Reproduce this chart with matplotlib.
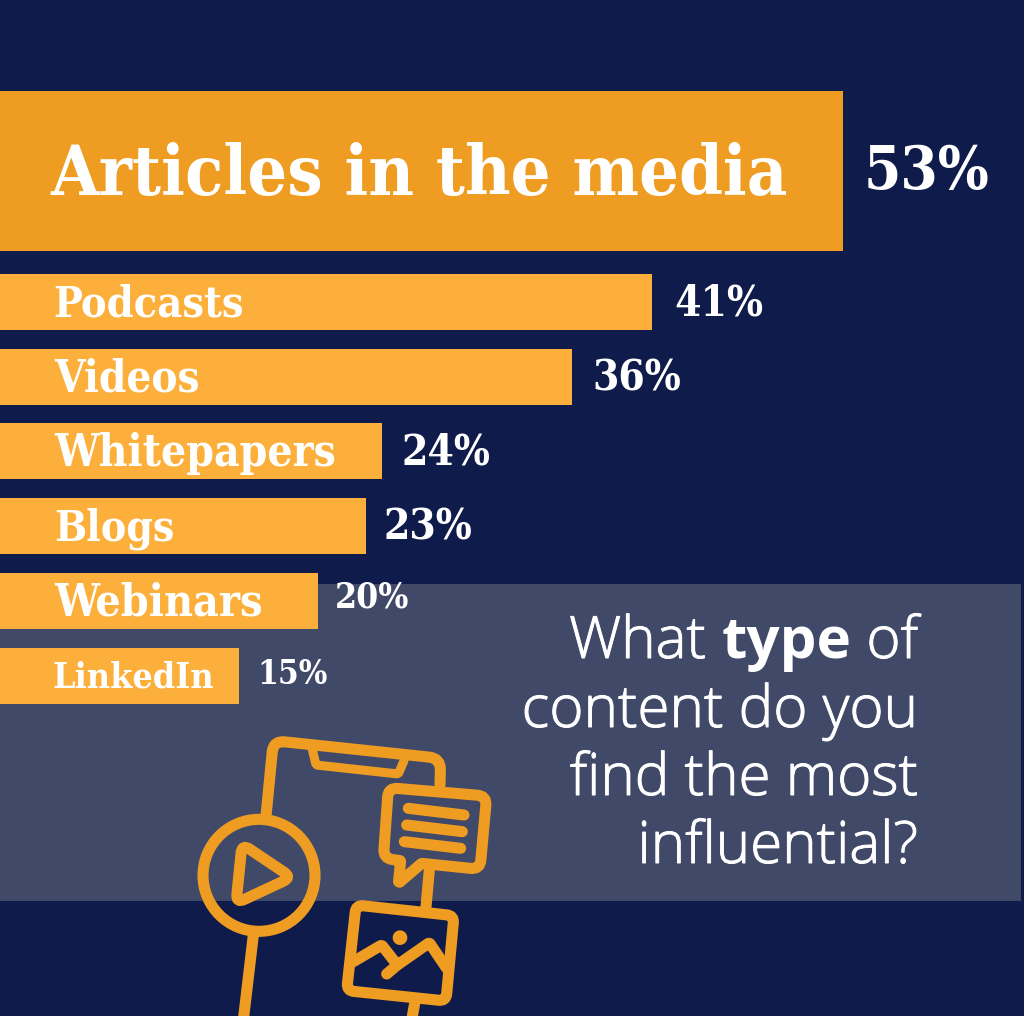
import matplotlib
matplotlib.use("Agg")
import matplotlib.pyplot as plt
import matplotlib.patheffects as pe
from matplotlib.path import Path
from matplotlib.patches import PathPatch, Circle, Rectangle
from matplotlib.font_manager import FontProperties
import numpy as np

categories = ["Articles in the media", "Podcasts", "Videos", "Whitepapers", "Blogs", "Webinars", "LinkedIn"]
values = [53, 41, 36, 24, 23, 20, 15]

NAVY = "#0F1B4A"
BAND = "#404968"
DARK_ORANGE = "#EE9C22"
ORANGE = "#FCB03B"
SERIF = "DejaVu Serif"
SANS = "Open Sans"

W, H = 1024, 1016
SCALE = 15.9
fig = plt.figure(figsize=(W / 100, H / 100), dpi=100, facecolor=NAVY)
ax = fig.add_axes([0, 0, 1, 1])
ax.set_xlim(0, W / SCALE)
ax.set_ylim(H, 0)
ax.axis("off")

# pixel-space overlay for decoration
px = fig.add_axes([0, 0, 1, 1], zorder=3)
px.set_xlim(0, W)
px.set_ylim(H, 0)
px.axis("off")
px.patch.set_alpha(0)

ax.add_patch(Rectangle((0, 584), (W - 3) / SCALE, 317, color=BAND, lw=0, zorder=1))

centers = [171, 302, 377, 451, 526, 601, 675.5]
heights = [160, 56, 56, 56, 56, 56, 56]
colors = [DARK_ORANGE] + [ORANGE] * 6
ax.barh(centers, values, height=heights, color=colors, zorder=2)

label_sizes = [50.3, 31, 31.5, 31.8, 30.5, 32, 25.7]
value_sizes = [43, 30.4, 30.4, 30.4, 30.4, 25.4, 24]
label_x = [50, 53, 54, 54, 54, 54, 53]
value_gap = [21, 22, 20, 20, 18, 17, 19]
dy = [-3, -2, -2, -2, -2, -2, -2]
value_dy = [-5, -3, -3, -3, -3, -7, -4]
for i, (c, v) in enumerate(zip(categories, values)):
    fp = FontProperties(family=SERIF, weight="bold", stretch="condensed", size=label_sizes[i])
    px.text(label_x[i], centers[i] + dy[i], c, fontproperties=fp,
            color="white", va="center_baseline", ha="left")
    fp = FontProperties(family=SERIF, weight="bold", stretch="condensed", size=value_sizes[i])
    ax.text(v + value_gap[i] / SCALE, centers[i] + value_dy[i], f"{v}%", fontproperties=fp,
            color="white", va="center_baseline", ha="left", zorder=4)

# question text, right aligned
lines = [[("What ", "light"), ("type", "bold"), (" of", "light")],
         [("content do you", "light")],
         [("find the most", "light")],
         [("influential?", "light")]]
line_y = [658, 727, 795, 863]
renderer = fig.canvas.get_renderer()
for segs, y in zip(lines, line_y):
    x = 918
    for s, w in reversed(segs):
        t = px.text(x, y, s.replace(" ", "\u00a0"), family=SANS, weight=w, size=42,
                    color="white", ha="right", va="baseline")
        x -= t.get_window_extent(renderer).width
        if w == "light":
            t.set_path_effects([pe.withStroke(linewidth=0.7, foreground="white")])


def Z(x, y):
    return 190 + x / 3, 720 + y / 3


def rounded(points, r, closed=True):
    pts = [np.array(Z(*p)) for p in points]
    n = len(pts)
    verts, codes = [], []
    rng = range(n) if closed else range(1, n - 1)
    if not closed:
        verts.append(pts[0]); codes.append(Path.MOVETO)
    for i in rng:
        p, a, b = pts[i], pts[i - 1], pts[(i + 1) % n]
        rad = (r[i] if isinstance(r, (list, tuple)) else r) / 3
        u = (a - p) / np.linalg.norm(a - p)
        v = (b - p) / np.linalg.norm(b - p)
        verts.append(p + u * rad)
        codes.append(Path.MOVETO if (closed and i == 0) else Path.LINETO)
        verts += [p, p + v * rad]
        codes += [Path.CURVE3, Path.CURVE3]
    if closed:
        verts.append(verts[0]); codes.append(Path.CLOSEPOLY)
    else:
        verts.append(pts[-1]); codes.append(Path.LINETO)
    return Path(verts, codes)


LW = 8.0
style = dict(fc="none", ec=DARK_ORANGE, lw=LW, capstyle="round", joinstyle="round")


def stroke(points, r=0, closed=False, lw=LW):
    px.add_patch(PathPatch(rounded(points, r if r else 0.01, closed), **{**style, "lw": lw}))


# phone body
stroke([(228, 288), (250, 62), (752, 115), (750, 195)], r=35)
stroke([(190, 645), (160, 900)])
stroke([(365, 80), (378, 135), (625, 162), (642, 122)], r=6, lw=6.5)
# play button
cx, cy = Z(207, 466)
px.add_patch(Circle((cx, cy), 168 / 3, fc="none", ec=DARK_ORANGE, lw=LW))
stroke([(156, 372), (305, 472), (138, 550)], r=28, closed=True)
# speech bubble
stroke([(595, 203), (890, 228), (870, 448), (695, 430), (625, 490), (632, 422), (580, 415)],
       r=[28, 28, 28, 3, 8, 3, 28], closed=True)
for a, b in [((655, 265), (822, 285)), ((650, 315), (817, 335)), ((643, 365), (812, 385))]:
    stroke([a, b])
stroke([(718, 450), (708, 560)])
# picture
stroke([(498, 555), (792, 587), (768, 843), (470, 812)], r=22, closed=True)
stroke([(675, 845), (665, 900)])
stroke([(490, 725), (575, 675), (622, 735), (718, 668), (770, 745)], r=5)
stroke([(622, 735), (590, 762)])
sx, sy = Z(630, 653)
px.add_patch(Circle((sx, sy), 22 / 3, fc=DARK_ORANGE, ec="none"))

fig.savefig("out.png", dpi=100, facecolor=NAVY)
